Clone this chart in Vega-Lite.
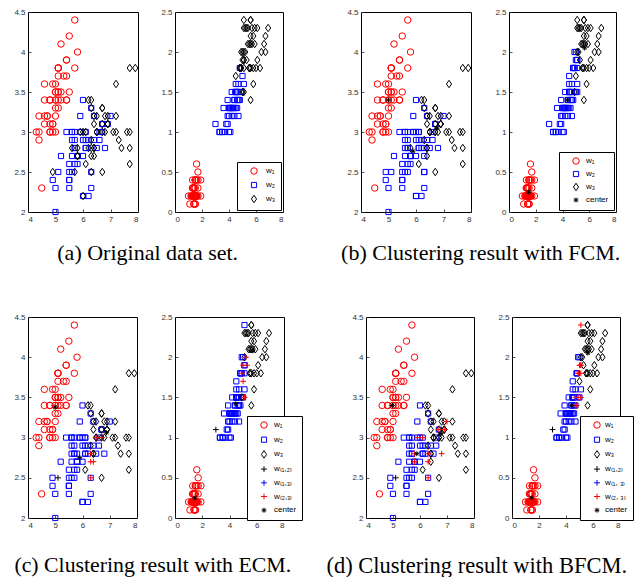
{
"$schema":"https://vega.github.io/schema/vega-lite/v6.json",
"background":"white",
"padding":{"left":11,"top":7,"right":0,"bottom":0},
"datasets":{"iris":[
{"sl":5.1,"sw":3.5,"pl":1.4,"pw":0.2,"a":"1","b":"1","c":"1","d":"1"},
{"sl":4.9,"sw":3.0,"pl":1.4,"pw":0.2,"a":"1","b":"1","c":"1","d":"1"},
{"sl":4.7,"sw":3.2,"pl":1.3,"pw":0.2,"a":"1","b":"1","c":"1","d":"1"},
{"sl":4.6,"sw":3.1,"pl":1.5,"pw":0.2,"a":"1","b":"1","c":"1","d":"1"},
{"sl":5.0,"sw":3.6,"pl":1.4,"pw":0.2,"a":"1","b":"1","c":"1","d":"1"},
{"sl":5.4,"sw":3.9,"pl":1.7,"pw":0.4,"a":"1","b":"1","c":"1","d":"1"},
{"sl":4.6,"sw":3.4,"pl":1.4,"pw":0.3,"a":"1","b":"1","c":"1","d":"1"},
{"sl":5.0,"sw":3.4,"pl":1.5,"pw":0.2,"a":"1","b":"1","c":"1","d":"1"},
{"sl":4.4,"sw":2.9,"pl":1.4,"pw":0.2,"a":"1","b":"1","c":"1","d":"1"},
{"sl":4.9,"sw":3.1,"pl":1.5,"pw":0.1,"a":"1","b":"1","c":"1","d":"1"},
{"sl":5.4,"sw":3.7,"pl":1.5,"pw":0.2,"a":"1","b":"1","c":"1","d":"1"},
{"sl":4.8,"sw":3.4,"pl":1.6,"pw":0.2,"a":"1","b":"1","c":"1","d":"1"},
{"sl":4.8,"sw":3.0,"pl":1.4,"pw":0.1,"a":"1","b":"1","c":"1","d":"1"},
{"sl":4.3,"sw":3.0,"pl":1.1,"pw":0.1,"a":"1","b":"1","c":"1","d":"1"},
{"sl":5.8,"sw":4.0,"pl":1.2,"pw":0.2,"a":"1","b":"1","c":"1","d":"1"},
{"sl":5.7,"sw":4.4,"pl":1.5,"pw":0.4,"a":"1","b":"1","c":"1","d":"1"},
{"sl":5.4,"sw":3.9,"pl":1.3,"pw":0.4,"a":"1","b":"1","c":"1","d":"1"},
{"sl":5.1,"sw":3.5,"pl":1.4,"pw":0.3,"a":"1","b":"1","c":"1","d":"1"},
{"sl":5.7,"sw":3.8,"pl":1.7,"pw":0.3,"a":"1","b":"1","c":"1","d":"1"},
{"sl":5.1,"sw":3.8,"pl":1.5,"pw":0.3,"a":"1","b":"1","c":"1","d":"1"},
{"sl":5.4,"sw":3.4,"pl":1.7,"pw":0.2,"a":"1","b":"1","c":"1","d":"1"},
{"sl":5.1,"sw":3.7,"pl":1.5,"pw":0.4,"a":"1","b":"1","c":"1","d":"1"},
{"sl":4.6,"sw":3.6,"pl":1.0,"pw":0.2,"a":"1","b":"1","c":"1","d":"1"},
{"sl":5.1,"sw":3.3,"pl":1.7,"pw":0.5,"a":"1","b":"1","c":"1","d":"1"},
{"sl":4.8,"sw":3.4,"pl":1.9,"pw":0.2,"a":"1","b":"1","c":"1","d":"1"},
{"sl":5.0,"sw":3.0,"pl":1.6,"pw":0.2,"a":"1","b":"1","c":"1","d":"1"},
{"sl":5.0,"sw":3.4,"pl":1.6,"pw":0.4,"a":"1","b":"1","c":"1","d":"1"},
{"sl":5.2,"sw":3.5,"pl":1.5,"pw":0.2,"a":"1","b":"1","c":"1","d":"1"},
{"sl":5.2,"sw":3.4,"pl":1.4,"pw":0.2,"a":"1","b":"1","c":"1","d":"1"},
{"sl":4.7,"sw":3.2,"pl":1.6,"pw":0.2,"a":"1","b":"1","c":"1","d":"1"},
{"sl":4.8,"sw":3.1,"pl":1.6,"pw":0.2,"a":"1","b":"1","c":"1","d":"1"},
{"sl":5.4,"sw":3.4,"pl":1.5,"pw":0.4,"a":"1","b":"1","c":"1","d":"1"},
{"sl":5.2,"sw":4.1,"pl":1.5,"pw":0.1,"a":"1","b":"1","c":"1","d":"1"},
{"sl":5.5,"sw":4.2,"pl":1.4,"pw":0.2,"a":"1","b":"1","c":"1","d":"1"},
{"sl":4.9,"sw":3.1,"pl":1.5,"pw":0.2,"a":"1","b":"1","c":"1","d":"1"},
{"sl":5.0,"sw":3.2,"pl":1.2,"pw":0.2,"a":"1","b":"1","c":"1","d":"1"},
{"sl":5.5,"sw":3.5,"pl":1.3,"pw":0.2,"a":"1","b":"1","c":"1","d":"1"},
{"sl":4.9,"sw":3.6,"pl":1.4,"pw":0.1,"a":"1","b":"1","c":"1","d":"1"},
{"sl":4.4,"sw":3.0,"pl":1.3,"pw":0.2,"a":"1","b":"1","c":"1","d":"1"},
{"sl":5.1,"sw":3.4,"pl":1.5,"pw":0.2,"a":"1","b":"1","c":"1","d":"1"},
{"sl":5.0,"sw":3.5,"pl":1.3,"pw":0.3,"a":"1","b":"1","c":"1","d":"1"},
{"sl":4.5,"sw":2.3,"pl":1.3,"pw":0.3,"a":"1","b":"1","c":"1","d":"1"},
{"sl":4.4,"sw":3.2,"pl":1.3,"pw":0.2,"a":"1","b":"1","c":"1","d":"1"},
{"sl":5.0,"sw":3.5,"pl":1.6,"pw":0.6,"a":"1","b":"1","c":"1","d":"1"},
{"sl":5.1,"sw":3.8,"pl":1.9,"pw":0.4,"a":"1","b":"1","c":"1","d":"1"},
{"sl":4.8,"sw":3.0,"pl":1.4,"pw":0.3,"a":"1","b":"1","c":"1","d":"1"},
{"sl":5.1,"sw":3.8,"pl":1.6,"pw":0.2,"a":"1","b":"1","c":"1","d":"1"},
{"sl":4.6,"sw":3.2,"pl":1.4,"pw":0.2,"a":"1","b":"1","c":"1","d":"1"},
{"sl":5.3,"sw":3.7,"pl":1.5,"pw":0.2,"a":"1","b":"1","c":"1","d":"1"},
{"sl":5.0,"sw":3.3,"pl":1.4,"pw":0.2,"a":"1","b":"1","c":"1","d":"1"},
{"sl":7.0,"sw":3.2,"pl":4.7,"pw":1.4,"a":"2","b":"2","c":"2","d":"6"},
{"sl":6.4,"sw":3.2,"pl":4.5,"pw":1.5,"a":"2","b":"2","c":"2","d":"2"},
{"sl":6.9,"sw":3.1,"pl":4.9,"pw":1.5,"a":"2","b":"3","c":"3","d":"6"},
{"sl":5.5,"sw":2.3,"pl":4.0,"pw":1.3,"a":"2","b":"2","c":"2","d":"2"},
{"sl":6.5,"sw":2.8,"pl":4.6,"pw":1.5,"a":"2","b":"2","c":"2","d":"2"},
{"sl":5.7,"sw":2.8,"pl":4.5,"pw":1.3,"a":"2","b":"2","c":"2","d":"2"},
{"sl":6.3,"sw":3.3,"pl":4.7,"pw":1.6,"a":"2","b":"2","c":"2","d":"2"},
{"sl":4.9,"sw":2.4,"pl":3.3,"pw":1.0,"a":"2","b":"2","c":"2","d":"2"},
{"sl":6.6,"sw":2.9,"pl":4.6,"pw":1.3,"a":"2","b":"2","c":"2","d":"2"},
{"sl":5.2,"sw":2.7,"pl":3.9,"pw":1.4,"a":"2","b":"2","c":"2","d":"2"},
{"sl":5.0,"sw":2.0,"pl":3.5,"pw":1.0,"a":"2","b":"2","c":"2","d":"2"},
{"sl":5.9,"sw":3.0,"pl":4.2,"pw":1.5,"a":"2","b":"2","c":"2","d":"2"},
{"sl":6.0,"sw":2.2,"pl":4.0,"pw":1.0,"a":"2","b":"2","c":"2","d":"2"},
{"sl":6.1,"sw":2.9,"pl":4.7,"pw":1.4,"a":"2","b":"2","c":"2","d":"2"},
{"sl":5.6,"sw":2.9,"pl":3.6,"pw":1.3,"a":"2","b":"2","c":"2","d":"2"},
{"sl":6.7,"sw":3.1,"pl":4.4,"pw":1.4,"a":"2","b":"2","c":"2","d":"2"},
{"sl":5.6,"sw":3.0,"pl":4.5,"pw":1.5,"a":"2","b":"2","c":"2","d":"2"},
{"sl":5.8,"sw":2.7,"pl":4.1,"pw":1.0,"a":"2","b":"2","c":"2","d":"2"},
{"sl":6.2,"sw":2.2,"pl":4.5,"pw":1.5,"a":"2","b":"2","c":"2","d":"2"},
{"sl":5.6,"sw":2.5,"pl":3.9,"pw":1.1,"a":"2","b":"2","c":"2","d":"2"},
{"sl":5.9,"sw":3.2,"pl":4.8,"pw":1.8,"a":"2","b":"2","c":"2","d":"2"},
{"sl":6.1,"sw":2.8,"pl":4.0,"pw":1.3,"a":"2","b":"2","c":"2","d":"2"},
{"sl":6.3,"sw":2.5,"pl":4.9,"pw":1.5,"a":"2","b":"2","c":"2","d":"2"},
{"sl":6.1,"sw":2.8,"pl":4.7,"pw":1.2,"a":"2","b":"2","c":"2","d":"2"},
{"sl":6.4,"sw":2.9,"pl":4.3,"pw":1.3,"a":"2","b":"2","c":"2","d":"2"},
{"sl":6.6,"sw":3.0,"pl":4.4,"pw":1.4,"a":"2","b":"2","c":"2","d":"2"},
{"sl":6.8,"sw":2.8,"pl":4.8,"pw":1.4,"a":"2","b":"2","c":"2","d":"6"},
{"sl":6.7,"sw":3.0,"pl":5.0,"pw":1.7,"a":"2","b":"3","c":"6","d":"3"},
{"sl":6.0,"sw":2.9,"pl":4.5,"pw":1.5,"a":"2","b":"2","c":"2","d":"2"},
{"sl":5.7,"sw":2.6,"pl":3.5,"pw":1.0,"a":"2","b":"2","c":"2","d":"2"},
{"sl":5.5,"sw":2.4,"pl":3.8,"pw":1.1,"a":"2","b":"2","c":"2","d":"2"},
{"sl":5.5,"sw":2.4,"pl":3.7,"pw":1.0,"a":"2","b":"2","c":"2","d":"2"},
{"sl":5.8,"sw":2.7,"pl":3.9,"pw":1.2,"a":"2","b":"2","c":"2","d":"2"},
{"sl":6.0,"sw":2.7,"pl":5.1,"pw":1.6,"a":"2","b":"2","c":"2","d":"2"},
{"sl":5.4,"sw":3.0,"pl":4.5,"pw":1.5,"a":"2","b":"2","c":"2","d":"2"},
{"sl":6.0,"sw":3.4,"pl":4.5,"pw":1.6,"a":"2","b":"2","c":"2","d":"2"},
{"sl":6.7,"sw":3.1,"pl":4.7,"pw":1.5,"a":"2","b":"2","c":"2","d":"6"},
{"sl":6.3,"sw":2.3,"pl":4.4,"pw":1.3,"a":"2","b":"2","c":"2","d":"2"},
{"sl":5.6,"sw":3.0,"pl":4.1,"pw":1.3,"a":"2","b":"2","c":"2","d":"2"},
{"sl":5.5,"sw":2.5,"pl":4.0,"pw":1.3,"a":"2","b":"2","c":"2","d":"2"},
{"sl":5.5,"sw":2.6,"pl":4.4,"pw":1.2,"a":"2","b":"2","c":"2","d":"2"},
{"sl":6.1,"sw":3.0,"pl":4.6,"pw":1.4,"a":"2","b":"2","c":"2","d":"2"},
{"sl":5.8,"sw":2.6,"pl":4.0,"pw":1.2,"a":"2","b":"2","c":"2","d":"2"},
{"sl":5.0,"sw":2.3,"pl":3.3,"pw":1.0,"a":"2","b":"2","c":"2","d":"2"},
{"sl":5.6,"sw":2.7,"pl":4.2,"pw":1.3,"a":"2","b":"2","c":"2","d":"2"},
{"sl":5.7,"sw":3.0,"pl":4.2,"pw":1.2,"a":"2","b":"2","c":"2","d":"2"},
{"sl":5.7,"sw":2.9,"pl":4.2,"pw":1.3,"a":"2","b":"2","c":"2","d":"2"},
{"sl":6.2,"sw":2.9,"pl":4.3,"pw":1.3,"a":"2","b":"2","c":"2","d":"2"},
{"sl":5.1,"sw":2.5,"pl":3.0,"pw":1.1,"a":"2","b":"2","c":"4","d":"4"},
{"sl":5.7,"sw":2.8,"pl":4.1,"pw":1.3,"a":"2","b":"2","c":"2","d":"2"},
{"sl":6.3,"sw":3.3,"pl":6.0,"pw":2.5,"a":"3","b":"3","c":"3","d":"3"},
{"sl":5.8,"sw":2.7,"pl":5.1,"pw":1.9,"a":"3","b":"2","c":"2","d":"6"},
{"sl":7.1,"sw":3.0,"pl":5.9,"pw":2.1,"a":"3","b":"3","c":"3","d":"3"},
{"sl":6.3,"sw":2.9,"pl":5.6,"pw":1.8,"a":"3","b":"3","c":"3","d":"3"},
{"sl":6.5,"sw":3.0,"pl":5.8,"pw":2.2,"a":"3","b":"3","c":"3","d":"3"},
{"sl":7.6,"sw":3.0,"pl":6.6,"pw":2.1,"a":"3","b":"3","c":"3","d":"3"},
{"sl":4.9,"sw":2.5,"pl":4.5,"pw":1.7,"a":"3","b":"2","c":"2","d":"2"},
{"sl":7.3,"sw":2.9,"pl":6.3,"pw":1.8,"a":"3","b":"3","c":"3","d":"3"},
{"sl":6.7,"sw":2.5,"pl":5.8,"pw":1.8,"a":"3","b":"3","c":"3","d":"3"},
{"sl":7.2,"sw":3.6,"pl":6.1,"pw":2.5,"a":"3","b":"3","c":"3","d":"3"},
{"sl":6.5,"sw":3.2,"pl":5.1,"pw":2.0,"a":"3","b":"3","c":"3","d":"3"},
{"sl":6.4,"sw":2.7,"pl":5.3,"pw":1.9,"a":"3","b":"3","c":"6","d":"3"},
{"sl":6.8,"sw":3.0,"pl":5.5,"pw":2.1,"a":"3","b":"3","c":"3","d":"3"},
{"sl":5.7,"sw":2.5,"pl":5.0,"pw":2.0,"a":"3","b":"2","c":"2","d":"2"},
{"sl":5.8,"sw":2.8,"pl":5.1,"pw":2.4,"a":"3","b":"3","c":"2","d":"6"},
{"sl":6.4,"sw":3.2,"pl":5.3,"pw":2.3,"a":"3","b":"3","c":"3","d":"3"},
{"sl":6.5,"sw":3.0,"pl":5.5,"pw":1.8,"a":"3","b":"3","c":"3","d":"3"},
{"sl":7.7,"sw":3.8,"pl":6.7,"pw":2.2,"a":"3","b":"3","c":"3","d":"3"},
{"sl":7.7,"sw":2.6,"pl":6.9,"pw":2.3,"a":"3","b":"3","c":"3","d":"3"},
{"sl":6.0,"sw":2.2,"pl":5.0,"pw":1.5,"a":"3","b":"2","c":"2","d":"2"},
{"sl":6.9,"sw":3.2,"pl":5.7,"pw":2.3,"a":"3","b":"3","c":"3","d":"3"},
{"sl":5.6,"sw":2.8,"pl":4.9,"pw":2.0,"a":"3","b":"2","c":"2","d":"2"},
{"sl":7.7,"sw":2.8,"pl":6.7,"pw":2.0,"a":"3","b":"3","c":"3","d":"3"},
{"sl":6.3,"sw":2.7,"pl":4.9,"pw":1.8,"a":"3","b":"2","c":"6","d":"6"},
{"sl":6.7,"sw":3.3,"pl":5.7,"pw":2.1,"a":"3","b":"3","c":"3","d":"3"},
{"sl":7.2,"sw":3.2,"pl":6.0,"pw":1.8,"a":"3","b":"3","c":"3","d":"3"},
{"sl":6.2,"sw":2.8,"pl":4.8,"pw":1.8,"a":"3","b":"2","c":"2","d":"2"},
{"sl":6.1,"sw":3.0,"pl":4.9,"pw":1.8,"a":"3","b":"2","c":"2","d":"6"},
{"sl":6.4,"sw":2.8,"pl":5.6,"pw":2.1,"a":"3","b":"3","c":"3","d":"3"},
{"sl":7.2,"sw":3.0,"pl":5.8,"pw":1.6,"a":"3","b":"3","c":"3","d":"3"},
{"sl":7.4,"sw":2.8,"pl":6.1,"pw":1.9,"a":"3","b":"3","c":"3","d":"3"},
{"sl":7.9,"sw":3.8,"pl":6.4,"pw":2.0,"a":"3","b":"3","c":"3","d":"3"},
{"sl":6.4,"sw":2.8,"pl":5.6,"pw":2.2,"a":"3","b":"3","c":"3","d":"3"},
{"sl":6.3,"sw":2.8,"pl":5.1,"pw":1.5,"a":"3","b":"2","c":"6","d":"6"},
{"sl":6.1,"sw":2.6,"pl":5.6,"pw":1.4,"a":"3","b":"3","c":"3","d":"3"},
{"sl":7.7,"sw":3.0,"pl":6.1,"pw":2.3,"a":"3","b":"3","c":"3","d":"3"},
{"sl":6.3,"sw":3.4,"pl":5.6,"pw":2.4,"a":"3","b":"3","c":"3","d":"3"},
{"sl":6.4,"sw":3.1,"pl":5.5,"pw":1.8,"a":"3","b":"3","c":"3","d":"3"},
{"sl":6.0,"sw":3.0,"pl":4.8,"pw":1.8,"a":"3","b":"2","c":"2","d":"2"},
{"sl":6.9,"sw":3.1,"pl":5.4,"pw":2.1,"a":"3","b":"3","c":"3","d":"3"},
{"sl":6.7,"sw":3.1,"pl":5.6,"pw":2.4,"a":"3","b":"3","c":"3","d":"3"},
{"sl":6.9,"sw":3.1,"pl":5.1,"pw":2.3,"a":"3","b":"3","c":"3","d":"3"},
{"sl":5.8,"sw":2.7,"pl":5.1,"pw":1.9,"a":"3","b":"2","c":"2","d":"6"},
{"sl":6.8,"sw":3.2,"pl":5.9,"pw":2.3,"a":"3","b":"3","c":"3","d":"3"},
{"sl":6.7,"sw":3.3,"pl":5.7,"pw":2.5,"a":"3","b":"3","c":"3","d":"3"},
{"sl":6.7,"sw":3.0,"pl":5.2,"pw":2.3,"a":"3","b":"3","c":"3","d":"3"},
{"sl":6.3,"sw":2.5,"pl":5.0,"pw":1.9,"a":"3","b":"2","c":"6","d":"6"},
{"sl":6.5,"sw":3.0,"pl":5.2,"pw":2.0,"a":"3","b":"3","c":"6","d":"3"},
{"sl":6.2,"sw":3.4,"pl":5.4,"pw":2.3,"a":"3","b":"3","c":"3","d":"3"},
{"sl":5.9,"sw":3.0,"pl":5.1,"pw":1.8,"a":"3","b":"2","c":"2","d":"6"},
{"sl":5.0,"sw":3.4,"pl":1.48,"pw":0.25,"b":"7"},
{"sl":5.89,"sw":2.76,"pl":4.36,"pw":1.4,"b":"7"},
{"sl":6.77,"sw":3.05,"pl":5.65,"pw":2.05,"b":"7"},
{"sl":5.0,"sw":3.38,"pl":1.46,"pw":0.25,"c":"7"},
{"sl":5.9,"sw":2.75,"pl":4.45,"pw":1.42,"c":"7"},
{"sl":6.88,"sw":3.06,"pl":5.7,"pw":2.08,"c":"7"},
{"sl":4.98,"sw":3.4,"pl":1.46,"pw":0.25,"d":"7"},
{"sl":5.88,"sw":2.8,"pl":4.42,"pw":1.4,"d":"7"},
{"sl":6.78,"sw":3.05,"pl":5.62,"pw":2.05,"d":"7"}
]},
"data":{"name":"iris"},
"spacing":48,
"resolve":{"scale":{"shape":"independent","stroke":"independent"},"legend":{"shape":"independent","stroke":"independent"}},
"vconcat":[
{"resolve":{"scale":{"shape":"independent","stroke":"independent"},"legend":{"shape":"independent","stroke":"independent"}},
 "hconcat":[
 {"resolve":{"scale":{"shape":"independent","stroke":"independent"},"legend":{"shape":"independent","stroke":"independent"}},
  "hconcat":[
  {"width":110,"height":200,
   "transform":[{"filter":{"field":"a","valid":true}}],
   "mark":{"type":"point","filled":false,"opacity":1,"strokeWidth":1,"size":42},
   "encoding":{
    "x":{"field":"sl","type":"quantitative","title":null,"scale":{"domain":[4,8],"nice":false,"zero":false},"axis":{"values":[4,5,6,7,8],"format":"~g"}},
    "y":{"field":"sw","type":"quantitative","title":null,"scale":{"domain":[2,4.5],"nice":false,"zero":false},"axis":{"values":[2,2.5,3,3.5,4,4.5],"format":"~g"}},
    "shape":{"field":"a","type":"nominal","legend":null,"scale":{"domain":["1","2","3"],"range":["circle","M-0.8,-0.8L0.8,-0.8L0.8,0.8L-0.8,0.8Z","M0,-1.15L0.8,0L0,1.15L-0.8,0Z"]}},
    "stroke":{"field":"a","type":"nominal","legend":null,"scale":{"domain":["1","2","3"],"range":["#ff0000","#0000ff","#000000"]}},
    "order":{"field":"a","type":"ordinal"}}},
  {"width":108,"height":200,
   "transform":[{"filter":{"field":"a","valid":true}},{"filter":"datum.pw < 2.5"}],
   "mark":{"type":"point","filled":false,"opacity":1,"strokeWidth":1,"size":42},
   "encoding":{
    "x":{"field":"pl","type":"quantitative","title":null,"scale":{"domain":[0,8],"nice":false},"axis":{"values":[0,2,4,6,8],"format":"~g"}},
    "y":{"field":"pw","type":"quantitative","title":null,"scale":{"domain":[0,2.5],"nice":false},"axis":{"values":[0,0.5,1,1.5,2,2.5],"format":"~g"}},
    "shape":{"field":"a","type":"nominal","legend":{"orient":"bottom-right","offset":2,"rowPadding":3,"labelExpr":"datum.label == '1' ? 'w₁' : datum.label == '2' ? 'w₂' : 'w₃'"},"scale":{"domain":["1","2","3"],"range":["circle","M-0.8,-0.8L0.8,-0.8L0.8,0.8L-0.8,0.8Z","M0,-1.15L0.8,0L0,1.15L-0.8,0Z"]}},
    "stroke":{"field":"a","type":"nominal","legend":{"orient":"bottom-right","offset":2,"rowPadding":3,"labelExpr":"datum.label == '1' ? 'w₁' : datum.label == '2' ? 'w₂' : 'w₃'"},"scale":{"domain":["1","2","3"],"range":["#ff0000","#0000ff","#000000"]}},
    "order":{"field":"a","type":"ordinal"}}}
 ],"spacing":17,
 "title":{"text":"(a) Original data set.","orient":"bottom","anchor":"middle","offset":18,"font":"Liberation Serif","fontSize":22,"fontWeight":"normal","color":"#000000"}},
 {"resolve":{"scale":{"shape":"independent","stroke":"independent"},"legend":{"shape":"independent","stroke":"independent"}},
  "hconcat":[
  {"width":110,"height":200,
   "transform":[{"filter":{"field":"b","valid":true}}],
   "mark":{"type":"point","filled":false,"opacity":1,"strokeWidth":1,"size":42},
   "encoding":{
    "x":{"field":"sl","type":"quantitative","title":null,"scale":{"domain":[4,8],"nice":false,"zero":false},"axis":{"values":[4,5,6,7,8],"format":"~g"}},
    "y":{"field":"sw","type":"quantitative","title":null,"scale":{"domain":[2,4.5],"nice":false,"zero":false},"axis":{"values":[2,2.5,3,3.5,4,4.5],"format":"~g"}},
    "shape":{"field":"b","type":"nominal","legend":null,"scale":{"domain":["1","2","3","7"],"range":["circle","M-0.8,-0.8L0.8,-0.8L0.8,0.8L-0.8,0.8Z","M0,-1.15L0.8,0L0,1.15L-0.8,0Z","M-0.75,0L0.75,0M0,-0.75L0,0.75M-0.55,-0.55L0.55,0.55M-0.55,0.55L0.55,-0.55"]}},
    "stroke":{"field":"b","type":"nominal","legend":null,"scale":{"domain":["1","2","3","7"],"range":["#ff0000","#0000ff","#000000","#000000"]}},
    "order":{"field":"b","type":"ordinal"}}},
  {"width":107,"height":200,
   "transform":[{"filter":{"field":"b","valid":true}},{"filter":"datum.pw < 2.5"}],
   "mark":{"type":"point","filled":false,"opacity":1,"strokeWidth":1,"size":42},
   "encoding":{
    "x":{"field":"pl","type":"quantitative","title":null,"scale":{"domain":[0,8],"nice":false},"axis":{"values":[0,2,4,6,8],"format":"~g"}},
    "y":{"field":"pw","type":"quantitative","title":null,"scale":{"domain":[0,2.5],"nice":false},"axis":{"values":[0,0.5,1,1.5,2,2.5],"format":"~g"}},
    "shape":{"field":"b","type":"nominal","legend":{"orient":"bottom-right","offset":2,"rowPadding":2,"labelOffset":6,"labelExpr":"datum.label == '1' ? 'w₁' : datum.label == '2' ? 'w₂' : datum.label == '3' ? 'w₃' : 'center'"},"scale":{"domain":["1","2","3","7"],"range":["circle","M-0.8,-0.8L0.8,-0.8L0.8,0.8L-0.8,0.8Z","M0,-1.15L0.8,0L0,1.15L-0.8,0Z","M-0.75,0L0.75,0M0,-0.75L0,0.75M-0.55,-0.55L0.55,0.55M-0.55,0.55L0.55,-0.55"]}},
    "stroke":{"field":"b","type":"nominal","legend":{"orient":"bottom-right","offset":2,"rowPadding":2,"labelOffset":6,"labelExpr":"datum.label == '1' ? 'w₁' : datum.label == '2' ? 'w₂' : datum.label == '3' ? 'w₃' : 'center'"},"scale":{"domain":["1","2","3","7"],"range":["#ff0000","#0000ff","#000000","#000000"]}},
    "order":{"field":"b","type":"ordinal"}}}
 ],"spacing":18,
 "title":{"text":"(b) Clustering result with FCM.","orient":"bottom","anchor":"middle","offset":18,"font":"Liberation Serif","fontSize":22,"fontWeight":"normal","color":"#000000"}}
],"spacing":57},
{"resolve":{"scale":{"shape":"independent","stroke":"independent"},"legend":{"shape":"independent","stroke":"independent"}},
 "hconcat":[
 {"resolve":{"scale":{"shape":"independent","stroke":"independent"},"legend":{"shape":"independent","stroke":"independent"}},
  "hconcat":[
  {"width":109,"height":201,
   "transform":[{"filter":{"field":"c","valid":true}}],
   "mark":{"type":"point","filled":false,"opacity":1,"strokeWidth":1,"size":42},
   "encoding":{
    "x":{"field":"sl","type":"quantitative","title":null,"scale":{"domain":[4,8],"nice":false,"zero":false},"axis":{"values":[4,5,6,7,8],"format":"~g"}},
    "y":{"field":"sw","type":"quantitative","title":null,"scale":{"domain":[2,4.5],"nice":false,"zero":false},"axis":{"values":[2,2.5,3,3.5,4,4.5],"format":"~g"}},
    "shape":{"field":"c","type":"nominal","legend":null,"scale":{"domain":["1","2","3","4","5","6","7"],"range":["circle","M-0.8,-0.8L0.8,-0.8L0.8,0.8L-0.8,0.8Z","M0,-1.15L0.8,0L0,1.15L-0.8,0Z","M-0.9,0L0.9,0M0,-0.9L0,0.9","M-0.9,0L0.9,0M0,-0.9L0,0.9","M-0.9,0L0.9,0M0,-0.9L0,0.9","M-0.75,0L0.75,0M0,-0.75L0,0.75M-0.55,-0.55L0.55,0.55M-0.55,0.55L0.55,-0.55"]}},
    "stroke":{"field":"c","type":"nominal","legend":null,"scale":{"domain":["1","2","3","4","5","6","7"],"range":["#ff0000","#0000ff","#000000","#000000","#0000ff","#ff0000","#000000"]}},
    "order":{"field":"c","type":"ordinal"}}},
  {"width":109,"height":201,
   "transform":[{"filter":{"field":"c","valid":true}},{"filter":"datum.pw < 2.5"}],
   "mark":{"type":"point","filled":false,"opacity":1,"strokeWidth":1,"size":42},
   "encoding":{
    "x":{"field":"pl","type":"quantitative","title":null,"scale":{"domain":[0,8],"nice":false},"axis":{"values":[0,2,4,6,8],"format":"~g"}},
    "y":{"field":"pw","type":"quantitative","title":null,"scale":{"domain":[0,2.5],"nice":false},"axis":{"values":[0,0.5,1,1.5,2,2.5],"format":"~g"}},
    "shape":{"field":"c","type":"nominal","legend":{"orient":"none","legendX":72,"legendY":99,"rowPadding":3.7,"labelOffset":6,"labelExpr":"datum.label == '1' ? 'w₁' : datum.label == '2' ? 'w₂' : datum.label == '3' ? 'w₃' : datum.label == '4' ? 'w₍₁,₂₎' : datum.label == '5' ? 'w₍₁,₃₎' : datum.label == '6' ? 'w₍₂,₃₎' : 'center'"},"scale":{"domain":["1","2","3","4","5","6","7"],"range":["circle","M-0.8,-0.8L0.8,-0.8L0.8,0.8L-0.8,0.8Z","M0,-1.15L0.8,0L0,1.15L-0.8,0Z","M-0.9,0L0.9,0M0,-0.9L0,0.9","M-0.9,0L0.9,0M0,-0.9L0,0.9","M-0.9,0L0.9,0M0,-0.9L0,0.9","M-0.75,0L0.75,0M0,-0.75L0,0.75M-0.55,-0.55L0.55,0.55M-0.55,0.55L0.55,-0.55"]}},
    "stroke":{"field":"c","type":"nominal","legend":{"orient":"none","legendX":72,"legendY":99,"rowPadding":3.7,"labelOffset":6,"labelExpr":"datum.label == '1' ? 'w₁' : datum.label == '2' ? 'w₂' : datum.label == '3' ? 'w₃' : datum.label == '4' ? 'w₍₁,₂₎' : datum.label == '5' ? 'w₍₁,₃₎' : datum.label == '6' ? 'w₍₂,₃₎' : 'center'"},"scale":{"domain":["1","2","3","4","5","6","7"],"range":["#ff0000","#0000ff","#000000","#000000","#0000ff","#ff0000","#000000"]}},
    "order":{"field":"c","type":"ordinal"}}}
 ],"spacing":18,
 "title":{"text":"(c) Clustering result with ECM.","orient":"bottom","anchor":"middle","offset":24,"dx":-4.5,"font":"Liberation Serif","fontSize":21.8,"fontWeight":"normal","color":"#000000"}},
 {"resolve":{"scale":{"shape":"independent","stroke":"independent"},"legend":{"shape":"independent","stroke":"independent"}},
  "hconcat":[
  {"width":108,"height":201,
   "transform":[{"filter":{"field":"d","valid":true}}],
   "mark":{"type":"point","filled":false,"opacity":1,"strokeWidth":1,"size":42},
   "encoding":{
    "x":{"field":"sl","type":"quantitative","title":null,"scale":{"domain":[4,8],"nice":false,"zero":false},"axis":{"values":[4,5,6,7,8],"format":"~g"}},
    "y":{"field":"sw","type":"quantitative","title":null,"scale":{"domain":[2,4.5],"nice":false,"zero":false},"axis":{"values":[2,2.5,3,3.5,4,4.5],"format":"~g"}},
    "shape":{"field":"d","type":"nominal","legend":null,"scale":{"domain":["1","2","3","4","5","6","7"],"range":["circle","M-0.8,-0.8L0.8,-0.8L0.8,0.8L-0.8,0.8Z","M0,-1.15L0.8,0L0,1.15L-0.8,0Z","M-0.9,0L0.9,0M0,-0.9L0,0.9","M-0.9,0L0.9,0M0,-0.9L0,0.9","M-0.9,0L0.9,0M0,-0.9L0,0.9","M-0.75,0L0.75,0M0,-0.75L0,0.75M-0.55,-0.55L0.55,0.55M-0.55,0.55L0.55,-0.55"]}},
    "stroke":{"field":"d","type":"nominal","legend":null,"scale":{"domain":["1","2","3","4","5","6","7"],"range":["#ff0000","#0000ff","#000000","#000000","#0000ff","#ff0000","#000000"]}},
    "order":{"field":"d","type":"ordinal"}}},
  {"width":108,"height":201,
   "transform":[{"filter":{"field":"d","valid":true}},{"filter":"datum.pw < 2.5"}],
   "mark":{"type":"point","filled":false,"opacity":1,"strokeWidth":1,"size":42},
   "encoding":{
    "x":{"field":"pl","type":"quantitative","title":null,"scale":{"domain":[0,8],"nice":false},"axis":{"values":[0,2,4,6,8],"format":"~g"}},
    "y":{"field":"pw","type":"quantitative","title":null,"scale":{"domain":[0,2.5],"nice":false},"axis":{"values":[0,0.5,1,1.5,2,2.5],"format":"~g"}},
    "shape":{"field":"d","type":"nominal","legend":{"orient":"none","legendX":68,"legendY":99,"rowPadding":3.7,"labelOffset":4,"labelExpr":"datum.label == '1' ? 'w₁' : datum.label == '2' ? 'w₂' : datum.label == '3' ? 'w₃' : datum.label == '4' ? 'w₍₁,₂₎' : datum.label == '5' ? 'w₍₁, ₃₎' : datum.label == '6' ? 'w₍₂, ₃₎' : 'center'"},"scale":{"domain":["1","2","3","4","5","6","7"],"range":["circle","M-0.8,-0.8L0.8,-0.8L0.8,0.8L-0.8,0.8Z","M0,-1.15L0.8,0L0,1.15L-0.8,0Z","M-0.9,0L0.9,0M0,-0.9L0,0.9","M-0.9,0L0.9,0M0,-0.9L0,0.9","M-0.9,0L0.9,0M0,-0.9L0,0.9","M-0.75,0L0.75,0M0,-0.75L0,0.75M-0.55,-0.55L0.55,0.55M-0.55,0.55L0.55,-0.55"]}},
    "stroke":{"field":"d","type":"nominal","legend":{"orient":"none","legendX":68,"legendY":99,"rowPadding":3.7,"labelOffset":4,"labelExpr":"datum.label == '1' ? 'w₁' : datum.label == '2' ? 'w₂' : datum.label == '3' ? 'w₃' : datum.label == '4' ? 'w₍₁,₂₎' : datum.label == '5' ? 'w₍₁, ₃₎' : datum.label == '6' ? 'w₍₂, ₃₎' : 'center'"},"scale":{"domain":["1","2","3","4","5","6","7"],"range":["#ff0000","#0000ff","#000000","#000000","#0000ff","#ff0000","#000000"]}},
    "order":{"field":"d","type":"ordinal"}}}
 ],"spacing":18,
 "title":{"text":"(d) Clustering result with BFCM.","orient":"bottom","anchor":"middle","offset":24,"dx":-15,"font":"Liberation Serif","fontSize":22.5,"fontWeight":"normal","color":"#000000"}}
],"spacing":23}
],
"config":{
 "view":{"stroke":"#000000","strokeWidth":1},
 "axis":{"grid":false,"domain":false,"tickSize":-3,"tickColor":"#262626","tickWidth":0.8,"labelPadding":6,"labelFont":"Liberation Sans","labelFontSize":8,"labelColor":"#333333"},
 "axisY":{"minExtent":16,"maxExtent":16},
 "axisX":{"minExtent":12,"maxExtent":12},
 "legend":{"title":null,"labelFont":"Liberation Sans","labelFontSize":8,"labelColor":"#000000","symbolSize":42,"symbolStrokeWidth":1,"strokeColor":"#000000","fillColor":"#ffffff","padding":5,"rowPadding":6,"symbolOffset":8,"labelOffset":8}
}
}
